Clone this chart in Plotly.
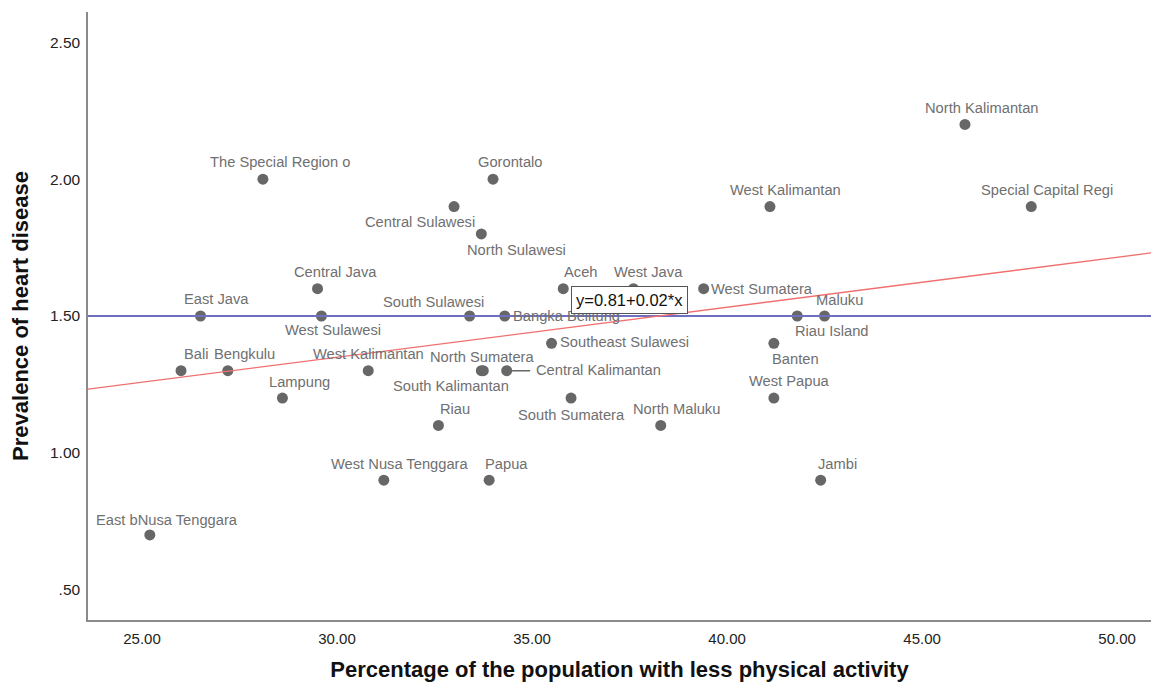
import plotly.graph_objects as go

# ---- data ----
provinces = [
    "North Kalimantan", "Special Capital Regi", "West Kalimantan", "The Special Region o",
    "Gorontalo", "Central Sulawesi", "North Sulawesi", "Central Java", "Aceh", "West Java",
    "West Sumatera", "East Java", "West Sulawesi", "South Sulawesi", "Bangka Belitung",
    "Riau Island", "Maluku", "Southeast Sulawesi", "Banten", "Bali", "Bengkulu",
    "West Kalimantan", "North Sumatera", "South Kalimantan", "Central Kalimantan",
    "Lampung", "South Sumatera", "West Papua", "Riau", "North Maluku",
    "West Nusa Tenggara", "Papua", "Jambi", "East bNusa Tenggara",
]
physical_inactivity = [
    46.1, 47.8, 41.1, 28.1,
    34.0, 33.0, 33.7, 29.5, 35.8, 37.6,
    39.4, 26.5, 29.6, 33.4, 34.3,
    41.8, 42.5, 35.5, 41.2, 26.0, 27.2,
    30.8, 33.7, 33.75, 34.35,
    28.6, 36.0, 41.2, 32.6, 38.3,
    31.2, 33.9, 42.4, 25.2,
]
heart_disease = [
    2.2, 1.9, 1.9, 2.0,
    2.0, 1.9, 1.8, 1.6, 1.6, 1.6,
    1.6, 1.5, 1.5, 1.5, 1.5,
    1.5, 1.5, 1.4, 1.4, 1.3, 1.3,
    1.3, 1.3, 1.3, 1.3,
    1.2, 1.2, 1.2, 1.1, 1.1,
    0.9, 0.9, 0.9, 0.7,
]
fit_intercept = 0.802
fit_slope = 0.01825
reference_y = 1.5
equation_label = "y=0.81+0.02*x"
equation_pos = (37.49, 1.560)
x_ticks = [25, 30, 35, 40, 45, 50]
x_tick_labels = ["25.00", "30.00", "35.00", "40.00", "45.00", "50.00"]
y_ticks = [0.5, 1.0, 1.5, 2.0, 2.5]
y_tick_labels = [".50", "1.00", "1.50", "2.00", "2.50"]

# ---- label placement (pixel offsets, anchor) ----
label_place = {
    0: (17, -16, "center"), 1: (16, -17, "center"), 2: (16, -17, "center"),
    3: (17, -17, "center"), 4: (17, -17, "center"), 5: (-34, 15, "center"),
    6: (35, 16, "center"), 7: (18, -17, "center"), 8: (17, -17, "center"),
    9: (15, -17, "center"), 10: (5, 0, "left"), 11: (16, -17, "center"),
    12: (12, 14, "center"), 13: (-36, -14, "center"), 14: (6, 0, "left"),
    15: (34, 15, "center"), 16: (15, -16, "center"), 17: (6, -1, "left"),
    18: (22, 16, "center"), 19: (15, -17, "center"), 20: (17, -17, "center"),
    21: (0, -17, "center"), 22: (1, -14, "center"), 23: (-32, 15, "center"),
    24: (27, -1, "left"), 25: (17, -16, "center"), 26: (0, 17, "center"),
    27: (16, -17, "center"), 28: (17, -16, "center"), 29: (16, -16, "center"),
    30: (16, -16, "center"), 31: (17, -16, "center"), 32: (17, -16, "center"),
    33: (17, -15, "center"),
}

x_min, x_max = 23.615, 50.87
y_min, y_max = 0.389, 2.611
FONT = "Liberation Sans, Arial, sans-serif"

fig = go.Figure()

fig.add_trace(go.Scatter(
    x=physical_inactivity, y=heart_disease, mode="markers",
    marker=dict(color="#676767", size=11, line=dict(width=0)),
    hoverinfo="text", text=provinces, showlegend=False,
))

# reference line and fit line
fig.add_trace(go.Scatter(
    x=[x_min, x_max], y=[reference_y, reference_y], mode="lines",
    line=dict(color="#6f6fbf", width=2), showlegend=False, hoverinfo="skip",
))
fig.add_trace(go.Scatter(
    x=[x_min, x_max], y=[fit_intercept + fit_slope * x_min, fit_intercept + fit_slope * x_max],
    mode="lines", line=dict(color="#f07070", width=1.3), showlegend=False, hoverinfo="skip",
))

# leader line for Central Kalimantan
ck = provinces.index("Central Kalimantan")
fig.add_annotation(
    x=physical_inactivity[ck], y=heart_disease[ck], xref="x", yref="y",
    ax=25, ay=0, axref="pixel", ayref="pixel", showarrow=True, arrowhead=0,
    arrowwidth=1.5, arrowcolor="#676767", text="",
)

for i, name in enumerate(provinces):
    dx, dy, anchor = label_place[i]
    fig.add_annotation(
        x=physical_inactivity[i], y=heart_disease[i], xref="x", yref="y",
        text=name, showarrow=False, xanchor=anchor, yanchor="middle",
        xshift=dx, yshift=-dy,
        font=dict(family=FONT, size=14.7, color="#707070"),
    )

fig.add_annotation(
    x=equation_pos[0], y=equation_pos[1], xref="x", yref="y", text=equation_label,
    showarrow=False, font=dict(family=FONT, size=16.5, color="#111111"),
    bgcolor="white", bordercolor="#555555", borderwidth=1, borderpad=4,
)

fig.update_layout(
    width=1143, height=674,
    margin=dict(l=80, r=0, t=4, b=62),
    paper_bgcolor="white", plot_bgcolor="white",
    font=dict(family=FONT, size=15, color="#222222"),
    xaxis=dict(
        range=[x_min, x_max], tickvals=x_ticks, ticktext=x_tick_labels,
        showgrid=False, zeroline=False, showline=True, linecolor="#8a8a8a", linewidth=1.5,
        ticks="", ticklabelstandoff=4, tickfont=dict(size=15, color="#222222"),
        automargin=False,
        title=dict(text="<b>Percentage of the population with less physical activity</b>",
                   font=dict(size=22, color="#111111"), standoff=26),
    ),
    yaxis=dict(
        range=[y_min, y_max], tickvals=y_ticks, ticktext=y_tick_labels,
        showgrid=False, zeroline=False, showline=True, linecolor="#8a8a8a", linewidth=1.5,
        ticks="", ticklabelstandoff=3, tickfont=dict(size=15.5, color="#222222"),
        automargin=False,
        title=dict(text="<b>Prevalence of heart disease</b>",
                   font=dict(size=22, color="#111111"), standoff=20),
    ),
)

fig.write_html("out.html")
